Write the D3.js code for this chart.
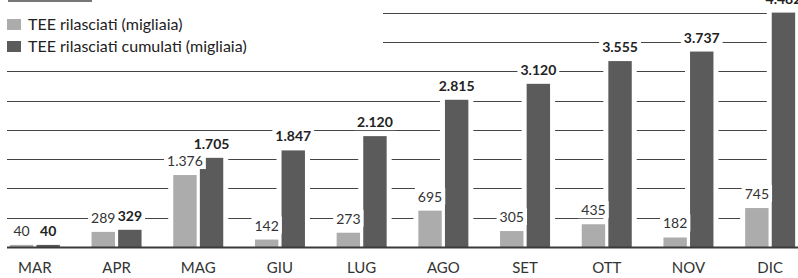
<!DOCTYPE html>
<html>
<head>
<meta charset="utf-8">
<script src="https://cdn.jsdelivr.net/npm/d3@7"></script>
<style>
  body { margin: 0; background: #fff; }
  svg { display: block; font-family: Lato, "Open Sans", sans-serif; }
</style>
</head>
<body>
<div id="chart"></div>
<script>

var months = ["MAR", "APR", "MAG", "GIU", "LUG", "AGO", "SET", "OTT", "NOV", "DIC"];
var rilasciati = [40, 289, 1376, 142, 273, 695, 305, 435, 182, 745];
var cumulati = [40, 329, 1705, 1847, 2120, 2815, 3120, 3555, 3737, 4482];
var seriesNames = ["TEE rilasciati (migliaia)", "TEE rilasciati cumulati (migliaia)"];
var gridValues = [560, 1120, 1680, 2240, 2800, 3360, 3920, 4480];

var W = 798, H = 278;
var lightCol = "#acacac", darkCol = "#5b5b5b", lineCol = "#444";

var fmt = function(v) {
    return d3.format(",")(v).replace(/,/g, ".");
};

var svg = d3.select("#chart").append("svg")
    .attr("width", W)
    .attr("height", H);

var x0 = d3.scaleBand().domain(months).range([-6, 811]);
var x1 = d3.scaleBand().domain(["r", "c"]).range([0, 50]).paddingInner(0.12);
var y = d3.scaleLinear().domain([0, 4482]).range([247, 12.6]);

// grid lines
svg.append("g").selectAll("line")
    .data(gridValues)
    .join("line")
    .attr("x1", 7)
    .attr("x2", W)
    .attr("y1", function(d) { return Math.round(y(d)) + 0.5; })
    .attr("y2", function(d) { return Math.round(y(d)) + 0.5; })
    .attr("stroke", lineCol)
    .attr("stroke-width", 1.2);

var data = months.map(function(m, i) {
    return { m: m, vals: [ { k: "r", v: rilasciati[i] }, { k: "c", v: cumulati[i] } ] };
});

var groups = svg.append("g").selectAll("g")
    .data(data)
    .join("g")
    .attr("transform", function(d) {
        return "translate(" + (x0(d.m) + x0.bandwidth() / 2 - 25) + ",0)";
    });

// white gaps around bars
groups.selectAll("rect.pad")
    .data(function(d) { return d.vals; })
    .join("rect")
    .attr("class", "pad")
    .attr("x", function(d) { return x1(d.k) - 5; })
    .attr("width", x1.bandwidth() + 10)
    .attr("y", function(d) { return y(d.v) - 3; })
    .attr("height", function(d) { return y(0) - y(d.v) + 3; })
    .attr("fill", "#fff");

groups.selectAll("rect.bar")
    .data(function(d) { return d.vals; })
    .join("rect")
    .attr("class", "bar")
    .attr("x", function(d) { return x1(d.k); })
    .attr("width", x1.bandwidth())
    .attr("y", function(d) { return y(d.v); })
    .attr("height", function(d) { return y(0) - y(d.v); })
    .attr("fill", function(d) { return d.k === "r" ? lightCol : darkCol; });

// value labels with white background
groups.each(function(d) {
    var g = d3.select(this);
    d.vals.forEach(function(v) {
        var t = g.append("text")
            .attr("x", x1(v.k) + x1.bandwidth() / 2)
            .attr("y", y(v.v) - 9)
            .attr("text-anchor", "middle")
            .attr("font-size", 14)
            .attr("font-weight", v.k === "c" ? "bold" : "normal")
            .attr("fill", v.k === "c" ? "#222" : "#333")
            .text(fmt(v.v));
        var bb = t.node().getBBox();
        g.insert("rect", "text")
            .attr("x", bb.x - 3)
            .attr("y", bb.y)
            .attr("width", bb.width + 6)
            .attr("height", bb.height)
            .attr("fill", "#fff");
    });
});

// baseline
svg.append("line")
    .attr("x1", 7)
    .attr("x2", W)
    .attr("y1", y(0) + 0.5)
    .attr("y2", y(0) + 0.5)
    .attr("stroke", "#3a3a3a")
    .attr("stroke-width", 2);

// month labels
svg.append("g").selectAll("text")
    .data(months)
    .join("text")
    .attr("x", function(d) { return x0(d) + x0.bandwidth() / 2; })
    .attr("y", 273)
    .attr("text-anchor", "middle")
    .attr("font-size", 15)
    .attr("fill", "#333")
    .text(function(d) { return d; });

// legend
svg.append("rect")
    .attr("x", 0).attr("y", 3)
    .attr("width", 383).attr("height", 54)
    .attr("fill", "#fff");

svg.append("rect")
    .attr("x", 8).attr("y", 0)
    .attr("width", 84).attr("height", 2)
    .attr("fill", "#777");

var legend = svg.append("g").selectAll("g")
    .data(seriesNames)
    .join("g")
    .attr("transform", function(d, i) { return "translate(7," + (19 + i * 22) + ")"; });

legend.append("rect")
    .attr("width", 14)
    .attr("height", 11)
    .attr("fill", function(d, i) { return i === 0 ? lightCol : darkCol; });

legend.append("text")
    .attr("x", 21)
    .attr("y", 10.5)
    .attr("font-size", 16)
    .attr("fill", "#222")
    .text(function(d) { return d; });

</script>
</body>
</html>
